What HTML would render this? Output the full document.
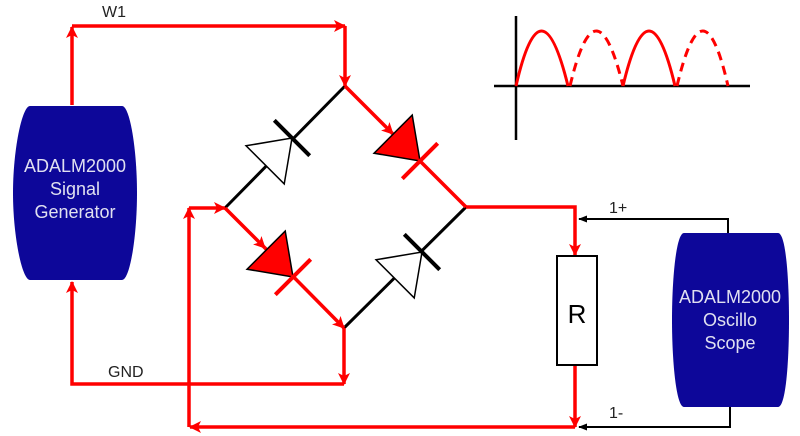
<!DOCTYPE html>
<html><head><meta charset="utf-8"><style>
html,body{margin:0;padding:0;background:#fff;}
svg{display:block;}
text{font-family:"Liberation Sans",sans-serif;}
</style></head><body>
<svg width="800" height="436" viewBox="0 0 800 436" xmlns="http://www.w3.org/2000/svg">
<defs>
<marker id="ar" viewBox="0 0 12 12" refX="11" refY="6" markerWidth="12" markerHeight="12" markerUnits="userSpaceOnUse" orient="auto">
<path d="M0,0 L12,6 L0,12 L3,6 Z" fill="#f00"/></marker>
<marker id="ak" viewBox="0 0 10 10" refX="9" refY="5" markerWidth="9" markerHeight="9" markerUnits="userSpaceOnUse" orient="auto">
<path d="M0,1 L10,5 L0,9 Z" fill="#000"/></marker>
</defs>
<!-- generator -->
<path d="M30,106 C22,106 13,150 13,193 C13,236 22,280 30,280 L122,280 C130,280 137,236 137,193 C137,150 130,106 122,106 Z" fill="#0d0799"/>
<text x="75" y="172" fill="#e0e0f0" font-size="18" text-anchor="middle">ADALM2000</text>
<text x="75" y="195" fill="#e0e0f0" font-size="18" text-anchor="middle">Signal</text>
<text x="75" y="218" fill="#e0e0f0" font-size="18" text-anchor="middle">Generator</text>
<!-- scope -->
<path d="M684,233 C676,233 672,280 672,320 C672,360 676,407 684,407 L778,407 C786,407 789,360 789,320 C789,280 786,233 778,233 Z" fill="#0d0799"/>
<text x="730" y="303" fill="#e0e0f0" font-size="18" text-anchor="middle">ADALM2000</text>
<text x="730" y="326" fill="#e0e0f0" font-size="18" text-anchor="middle">Oscillo</text>
<text x="730" y="349" fill="#e0e0f0" font-size="18" text-anchor="middle">Scope</text>
<!-- black scope leads -->
<g stroke="#000" stroke-width="2" fill="none">
<path d="M728,233 L728,219 L579,219" marker-end="url(#ak)"/>
<path d="M730,407 L730,427 L579,427" marker-end="url(#ak)"/>
</g>
<text x="609" y="213" font-size="16" fill="#222">1+</text>
<text x="609" y="418" font-size="16" fill="#222">1-</text>
<text x="102" y="17" font-size="16" fill="#222">W1</text>
<text x="108" y="377" font-size="16" fill="#222">GND</text>
<!-- bridge black sides -->
<g stroke="#000" stroke-width="3" fill="none">
<line x1="225" y1="208" x2="345" y2="86"/>
<line x1="344" y1="328" x2="466" y2="207"/>
</g>
<!-- red wiring -->
<g stroke="#f00" stroke-width="3.5" fill="none">
<path d="M72,105 L72,27" marker-end="url(#ar)"/>
<path d="M72,26 L345,26" marker-end="url(#ar)"/>
<path d="M345,26 L345,86" marker-end="url(#ar)"/>
<path d="M345,86 L393,134" marker-end="url(#ar)"/>
<path d="M393,134 L466,207"/>
<path d="M466,207 L575,207 L575,255" marker-end="url(#ar)"/>
<path d="M575,365 L575,427" marker-end="url(#ar)"/>
<path d="M575,427 L190,427" marker-end="url(#ar)"/>
<path d="M189,427 L189,208" marker-end="url(#ar)"/>
<path d="M189,208 L225,208" marker-end="url(#ar)"/>
<path d="M225,208 L265,248" marker-end="url(#ar)"/>
<path d="M265,248 L344,328" marker-end="url(#ar)"/>
<path d="M344,328 L344,384" marker-end="url(#ar)"/>
<path d="M344,384 L72,384 L72,282" marker-end="url(#ar)"/>
</g>
<!-- resistor -->
<rect x="557" y="256" width="40" height="109" fill="#fff" stroke="#000" stroke-width="2"/>
<text x="577" y="323" font-size="26" text-anchor="middle" fill="#000">R</text>
<!-- diodes -->
<g transform="translate(292,138) rotate(-45)">
<rect x="-38" y="-3" width="38" height="6" fill="#fff"/>
<path d="M-38,-27 L0,0 L-38,27 Z" fill="#fff" stroke="#000" stroke-width="1.5"/>
<line x1="0" y1="-25" x2="0" y2="25" stroke="#000" stroke-width="4"/>
</g>
<g transform="translate(420,161) rotate(45)">
<path d="M-38,-27 L0,0 L-38,27 Z" fill="#f00" stroke="#000" stroke-width="1.5"/>
<line x1="0" y1="-25" x2="0" y2="25" stroke="#f00" stroke-width="4"/>
</g>
<g transform="translate(293,277) rotate(45)">
<path d="M-38,-27 L0,0 L-38,27 Z" fill="#f00" stroke="#000" stroke-width="1.5"/>
<line x1="0" y1="-25" x2="0" y2="25" stroke="#f00" stroke-width="4"/>
</g>
<g transform="translate(422,252) rotate(-45)">
<rect x="-38" y="-3" width="38" height="6" fill="#fff"/>
<path d="M-38,-27 L0,0 L-38,27 Z" fill="#fff" stroke="#000" stroke-width="1.5"/>
<line x1="0" y1="-25" x2="0" y2="25" stroke="#000" stroke-width="4"/>
</g>
<!-- waveform -->
<g stroke="#000" stroke-width="2.5"><line x1="516" y1="16" x2="516" y2="140"/><line x1="494" y1="86" x2="750" y2="86"/></g>
<g stroke="#f00" stroke-width="3" fill="none">
<path d="M516,86 Q541,-24 568,86"/>
<path d="M623,86 Q649,-24 675,86"/>
<path d="M570,86 Q596,-24 623,86" stroke-dasharray="9,6"/>
<path d="M677,86 Q703,-24 728,86" stroke-dasharray="9,6"/>
</g>
</svg>
</body></html>
